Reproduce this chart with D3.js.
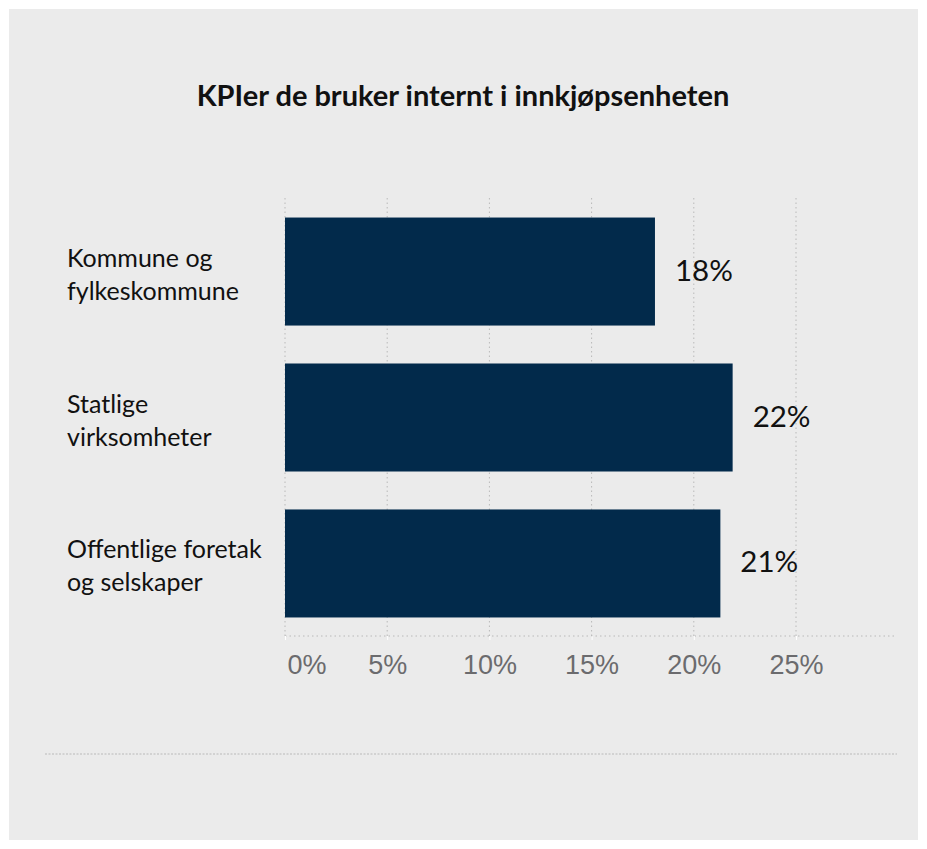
<!DOCTYPE html>
<html>
<head>
<meta charset="utf-8">
<title>KPIer</title>
<style>
  body { margin: 0; background: #ffffff; }
  svg { display: block; }
  .grid line { stroke: #b9b9b9; stroke-dasharray: 1.5 3; }
  .cat { font-family: Lato, "Noto Sans", sans-serif; font-size: 25px; fill: #111; }
  .val { font-family: Lato, "Noto Sans", sans-serif; font-size: 29.5px; fill: #111; }
  .tick text { font-family: "Liberation Sans", Arial, sans-serif; font-size: 27px; fill: #6b6b6e; }
</style>
<script src="https://cdn.jsdelivr.net/npm/d3@7"></script>
</head>
<body>
<svg width="927" height="849"></svg>
<script>
var categories = [["Kommune og", "fylkeskommune"], ["Statlige", "virksomheter"], ["Offentlige foretak", "og selskaper"]];
var values = [18.1, 21.9, 21.3];
var valueLabels = ["18%", "22%", "21%"];
var ticks = [0, 5, 10, 15, 20, 25];

var svg = d3.select("svg");

svg.append("rect")
   .attr("x", 9).attr("y", 9)
   .attr("width", 909).attr("height", 831)
   .attr("fill", "#ebebeb");

svg.append("text")
   .attr("x", 463).attr("y", 106)
   .attr("text-anchor", "middle")
   .style("font-family", "Lato, 'Noto Sans', sans-serif")
   .style("font-weight", "bold")
   .style("font-size", "29px")
   .attr("fill", "#111")
   .text("KPIer de bruker internt i innkjøpsenheten");

var x = d3.scaleLinear().domain([0, 25]).range([285, 796]);
var y = d3.scaleBand().domain(d3.range(values.length)).range([199, 636]).paddingInner(0.26).paddingOuter(0.127);

// gridlines
svg.append("g").attr("class", "grid")
   .selectAll("line").data(ticks).join("line")
   .attr("x1", d => x(d)).attr("x2", d => x(d))
   .attr("y1", 198).attr("y2", 636);

// axis line
svg.append("line")
   .attr("x1", 285).attr("x2", 897)
   .attr("y1", 636).attr("y2", 636)
   .attr("stroke", "#b9b9b9").attr("stroke-dasharray", "1.5 3");

var axis = svg.append("g")
   .attr("transform", "translate(0,636)")
   .call(d3.axisBottom(x).tickValues(ticks).tickFormat(d => d + "%").tickSize(4).tickPadding(15));
axis.select(".domain").remove();
axis.selectAll(".tick line").attr("stroke", "#ffffff");
axis.selectAll(".tick text").filter(d => d === 0).attr("text-anchor", "start").attr("dx", 2);

// bars
svg.append("g").selectAll("rect").data(values).join("rect")
   .attr("x", x(0))
   .attr("y", (d, i) => y(i))
   .attr("width", d => x(d) - x(0))
   .attr("height", y.bandwidth())
   .attr("fill", "#022a4b");

// value labels
svg.append("g").selectAll("text").data(values).join("text")
   .attr("class", "val")
   .attr("x", d => x(d) + 20)
   .attr("y", (d, i) => y(i) + y.bandwidth() / 2 + 9)
   .text((d, i) => valueLabels[i]);

// category labels
var cats = svg.append("g").selectAll("text").data(categories).join("text")
   .attr("class", "cat")
   .attr("x", 67)
   .attr("y", (d, i) => y(i) + y.bandwidth() / 2 - 5);
cats.selectAll("tspan").data(d => d).join("tspan")
   .attr("x", 67)
   .attr("dy", (d, j) => j === 0 ? 0 : 33)
   .text(d => d);

// bottom rule
svg.append("line")
   .attr("x1", 45).attr("x2", 897)
   .attr("y1", 754).attr("y2", 754)
   .attr("stroke", "#b9b9b9").attr("stroke-dasharray", "2 1.5");
</script>
</body>
</html>
